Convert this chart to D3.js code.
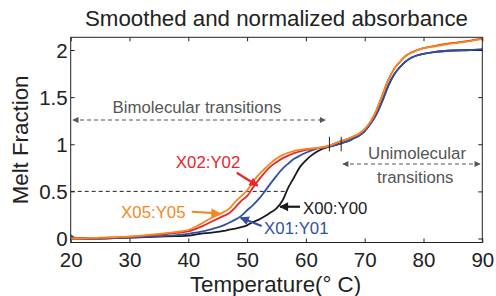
<!DOCTYPE html>
<html><head><meta charset="utf-8">
<script src="https://cdn.jsdelivr.net/npm/d3@7/dist/d3.min.js"></script>
<style>
html,body{margin:0;padding:0;background:#fff;}
text{font-family:"Liberation Sans",Arial,Helvetica,sans-serif;}
</style></head>
<body>
<svg id="chart" width="496" height="296"></svg>
<script>
const temps = [20,21,25,30,35,38,40,42,44,46,47,48,49,50,51,52,53,54,55,56,57,58,59,60,61,62,63,64,65,66,67,68,69,70,71,72,73,74,75,76,77,78,80,82,85,88,90];
const x00 = [0.0,0.0,0.0,0.01,0.02,0.025,0.03,0.05,0.062,0.08,0.095,0.105,0.12,0.14,0.175,0.2,0.235,0.275,0.32,0.4,0.54,0.65,0.76,0.83,0.885,0.925,0.955,0.975,0.99,1.01,1.03,1.06,1.09,1.14,1.22,1.32,1.46,1.62,1.74,1.82,1.88,1.92,1.96,1.98,1.995,2.0,2.0];
const x01 = [0.035,0.0,0.0,0.01,0.025,0.035,0.05,0.07,0.1,0.14,0.17,0.2,0.24,0.3,0.355,0.42,0.5,0.585,0.665,0.74,0.795,0.845,0.88,0.91,0.935,0.955,0.965,0.975,0.99,1.01,1.03,1.06,1.09,1.14,1.22,1.32,1.46,1.62,1.74,1.82,1.88,1.92,1.96,1.98,1.995,2.0,2.01];
const x02 = [0.0,0.0,0.005,0.02,0.04,0.06,0.075,0.12,0.18,0.24,0.27,0.33,0.4,0.45,0.54,0.625,0.7,0.765,0.81,0.85,0.88,0.905,0.925,0.94,0.95,0.96,0.97,0.985,1.01,1.035,1.055,1.08,1.11,1.16,1.24,1.36,1.52,1.68,1.8,1.875,1.94,1.975,2.02,2.045,2.075,2.1,2.12];
const x05 = [0.0,0.0,0.01,0.02,0.05,0.07,0.09,0.15,0.22,0.28,0.32,0.39,0.45,0.51,0.6,0.68,0.74,0.8,0.85,0.885,0.91,0.93,0.94,0.95,0.955,0.96,0.97,0.985,1.01,1.035,1.055,1.08,1.11,1.16,1.24,1.36,1.52,1.68,1.8,1.875,1.94,1.975,2.02,2.04,2.07,2.095,2.115];
const seriesNames = ["X00:Y00","X01:Y01","X02:Y02","X05:Y05"];
const seriesValues = [x00,x01,x02,x05];
const seriesColors = ["#1a1a1a","#2f50a6","#e8262b","#f7881f"];
const xTicks = [20,30,40,50,60,70,80,90];
const yTicks = [0,0.5,1,1.5,2];
const yTickLabels = ["0","0.5","1","1.5","2"];
// label anchor positions (data units): [T, v] for text, arrow from, arrow to
const labelPos = [[59.5,0.327],[58.37,0.108],[43.36,0.816],[34.05,0.284]];
const labelAnchor = ["start","middle","middle","middle"];
const arrowFrom = [[59.0,0.337],[52.48,0.133],[48.23,0.698],[40.58,0.284]];
const arrowTo = [[55.6,0.337],[48.9,0.22],[51.8,0.56],[45.3,0.267]];

const svg = d3.select("#chart");
const L = 70.7, R = 482.3, T = 37.3, B = 242.5;
const x = d3.scaleLinear().domain([20,90]).range([L,R]);
const y = d3.scaleLinear().domain([-0.0425,2.135]).range([B,T]);

const defs = svg.append("defs");
function marker(id,color,w,h){
  defs.append("marker").attr("id",id).attr("viewBox","0 0 10 10").attr("refX",9).attr("refY",5)
    .attr("markerWidth",w).attr("markerHeight",h).attr("orient","auto-start-reverse")
    .attr("markerUnits","userSpaceOnUse")
    .append("path").attr("d","M0,0L10,5L0,10Z").attr("fill",color);
}
marker("agray","#555",7,6);
seriesColors.forEach((c,i)=>marker("a"+i,c,11,9));

// title
svg.append("text").attr("x",(L+R)/2).attr("y",26).attr("text-anchor","middle")
  .attr("font-size",22.3).attr("fill","#222").text("Smoothed and normalized absorbance");

// axes (ticks inside)
const gx = svg.append("g").attr("transform",`translate(0,${B})`)
  .call(d3.axisBottom(x).tickValues(xTicks).tickSize(-4).tickPadding(9.5).tickFormat(d3.format("d")));
const gxt = svg.append("g").attr("transform",`translate(0,${T})`)
  .call(d3.axisTop(x).tickValues(xTicks).tickSize(-4).tickFormat(""));
const gy = svg.append("g").attr("transform",`translate(${L},0)`)
  .call(d3.axisLeft(y).tickValues(yTicks).tickSize(-4).tickPadding(3).tickFormat((d,i)=>yTickLabels[i]));
const gyr = svg.append("g").attr("transform",`translate(${R},0)`)
  .call(d3.axisRight(y).tickValues(yTicks).tickSize(-4).tickFormat(""));
[gx,gxt,gy,gyr].forEach(g=>{
  g.select(".domain").remove();
  g.selectAll("line").attr("stroke","#222");
  g.selectAll("text").attr("font-size",20.5).attr("fill","#222").attr("font-family","Liberation Sans, Arial, sans-serif");
});
gx.selectAll("text").attr("dy","0.71em");
gy.selectAll("text").attr("dy","0.34em");

// 0.5 dashed reference line
svg.append("line").attr("x1",x(20)).attr("x2",x(56.8)).attr("y1",y(0.5)).attr("y2",y(0.5))
  .attr("stroke","#222").attr("stroke-width",1).attr("stroke-dasharray","4,3");

// curves
const line = d3.line().x(d=>x(d[0])).y(d=>y(d[1])).curve(d3.curveMonotoneX);
seriesValues.forEach((vals,i)=>{
  svg.append("path").datum(temps.map((t,j)=>[t,vals[j]]))
    .attr("d",line).attr("fill","none").attr("stroke",seriesColors[i]).attr("stroke-width",1.8);
});

// frame
svg.append("rect").attr("x",L).attr("y",T).attr("width",R-L).attr("height",B-T)
  .attr("fill","none").attr("stroke","#222").attr("stroke-width",1);

// vertical markers
[64,66].forEach(t=>{
  svg.append("line").attr("x1",x(t)).attr("x2",x(t)).attr("y1",y(1.08)).attr("y2",y(0.925))
    .attr("stroke","#222").attr("stroke-width",1);
});

// region annotations
const gray = "#555";
svg.append("text").attr("x",x(41.48)).attr("y",y(1.395)).attr("dy","0.36em").attr("text-anchor","middle")
  .attr("font-size",16.8).attr("fill",gray).text("Bimolecular transitions");
svg.append("line").attr("x1",x(20.4)).attr("x2",x(63.3)).attr("y1",y(1.257)).attr("y2",y(1.257))
  .attr("stroke",gray).attr("stroke-dasharray","4,3").attr("stroke-width",1.1)
  .attr("marker-start","url(#agray)").attr("marker-end","url(#agray)");
svg.append("text").attr("x",x(78.9)).attr("y",y(0.91)).attr("dy","0.36em").attr("text-anchor","middle")
  .attr("font-size",16.8).attr("fill",gray).text("Unimolecular");
svg.append("text").attr("x",x(78.6)).attr("y",y(0.656)).attr("dy","0.36em").attr("text-anchor","middle")
  .attr("font-size",16.8).attr("fill",gray).text("transitions");
svg.append("line").attr("x1",x(66.3)).attr("x2",x(89.6)).attr("y1",y(0.79)).attr("y2",y(0.79))
  .attr("stroke",gray).attr("stroke-dasharray","4,3").attr("stroke-width",1.1)
  .attr("marker-start","url(#agray)").attr("marker-end","url(#agray)");

// series labels with arrows
seriesNames.forEach((n,i)=>{
  svg.append("text").attr("x",x(labelPos[i][0])).attr("y",y(labelPos[i][1])).attr("dy","0.36em")
    .attr("text-anchor",labelAnchor[i]).attr("font-size",16.8).attr("fill",seriesColors[i]).text(n);
  svg.append("line").attr("x1",x(arrowFrom[i][0])).attr("y1",y(arrowFrom[i][1]))
    .attr("x2",x(arrowTo[i][0])).attr("y2",y(arrowTo[i][1]))
    .attr("stroke",seriesColors[i]).attr("stroke-width",2.2).attr("marker-end",`url(#a${i})`);
});

// axis labels
svg.append("text").attr("x",(L+R)/2-1).attr("y",292).attr("text-anchor","middle")
  .attr("font-size",22.3).attr("fill","#222").text("Temperature(\u00B0 C)");
svg.append("text").attr("transform",`translate(28,${(T+B)/2}) rotate(-90)`).attr("text-anchor","middle")
  .attr("font-size",22.3).attr("fill","#222").text("Melt Fraction");
</script>
</body></html>
